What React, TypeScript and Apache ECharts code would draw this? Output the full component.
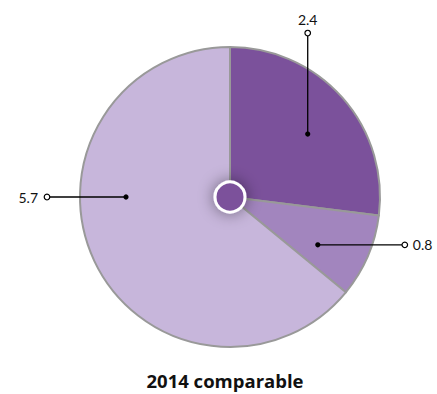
import React, { useEffect, useRef } from 'react';
import * as echarts from 'echarts';

// ---- data ----
const sliceNames = ['Segment A', 'Segment B', 'Segment C'];
const sliceValues = [2.4, 0.8, 5.7];
const valueLabels = ['2.4', '0.8', '5.7'];
const titleText = '2014 comparable';

// ---- styling / layout ----
const sliceColors = ['#7b519b', '#a285be', '#c7b6db'];
const CX = 230;
const CY = 197;
const R = 150;
const FONT = 'Lato, "Open Sans", sans-serif';
const TITLE_FONT = '"Open Sans", Lato, sans-serif';
const labelLayout = [
  { angle: 39, dist: 100, dir: 'up', len: 101 },
  { angle: -28.6, dist: 100, dir: 'right', len: 87 },
  { angle: 180, dist: 104, dir: 'left', len: 79 },
];

export default function App() {
  const ref = useRef<HTMLDivElement>(null);
  useEffect(() => {
    if (!ref.current) return;
    const chart = echarts.init(ref.current, undefined, { renderer: 'svg' });
    const option: any = {
      animation: false,
      backgroundColor: '#ffffff',
      series: [
        {
          type: 'pie',
          center: [CX, CY],
          radius: [0, R],
          startAngle: 90,
          clockwise: true,
          silent: true,
          label: { show: false },
          labelLine: { show: false },
          emphasis: { disabled: true },
          itemStyle: { borderColor: '#999999', borderWidth: 2 },
          data: sliceValues.map((v, i) => ({
            name: sliceNames[i],
            value: v,
            itemStyle: { color: sliceColors[i] },
          })),
          z: 1,
        },
        {
          type: 'custom',
          coordinateSystem: 'none',
          silent: true,
          z: 10,
          data: sliceValues.map((v, i) => [i, v]),
          renderItem: (params: any) => {
            const idx = params.dataIndex;
            const L = labelLayout[idx];
            const a = (L.angle * Math.PI) / 180;
            const x0 = CX + L.dist * Math.cos(a);
            const y0 = CY - L.dist * Math.sin(a);
            let x1 = x0;
            let y1 = y0;
            let tx = x0;
            let ty = y0;
            let align = 'center';
            let vAlign = 'middle';
            if (L.dir === 'up') {
              y1 = y0 - L.len;
              ty = y1 - 7;
              vAlign = 'bottom';
            } else if (L.dir === 'right') {
              x1 = x0 + L.len;
              tx = x1 + 8;
              align = 'left';
            } else {
              x1 = x0 - L.len;
              tx = x1 - 9;
              align = 'right';
            }
            return {
              type: 'group',
              children: [
                {
                  type: 'line',
                  shape: { x1: x0, y1: y0, x2: x1, y2: y1 },
                  style: { stroke: '#000000', lineWidth: 1.3 },
                },
                {
                  type: 'circle',
                  shape: { cx: x0, cy: y0, r: 2.6 },
                  style: { fill: '#000000' },
                },
                {
                  type: 'circle',
                  shape: { cx: x1, cy: y1, r: 2.8 },
                  style: { fill: '#ffffff', stroke: '#000000', lineWidth: 1.2 },
                },
                {
                  type: 'text',
                  style: {
                    text: valueLabels[idx],
                    x: tx,
                    y: ty,
                    align,
                    verticalAlign: vAlign,
                    fill: '#111111',
                    font: `14px ${FONT}`,
                  },
                },
              ],
            };
          },
        },
      ],
      graphic: [
        {
          type: 'circle',
          z: 100,
          shape: { cx: CX, cy: CY, r: 15 },
          style: {
            fill: sliceColors[0],
            stroke: '#ffffff',
            lineWidth: 3,
            shadowBlur: 16,
            shadowColor: 'rgba(0,0,0,0.45)',
          },
        },
        {
          type: 'text',
          z: 100,
          style: {
            text: titleText,
            x: 225,
            y: 380,
            align: 'center',
            verticalAlign: 'middle',
            fill: '#111111',
            font: `bold 18.5px ${TITLE_FONT}`,
          },
        },
      ],
    };
    chart.setOption(option);
    return () => chart.dispose();
  }, []);
  return (
    <div
      ref={ref}
      style={{ position: 'fixed', left: 0, top: 0, width: 437, height: 394 }}
    />
  );
}
